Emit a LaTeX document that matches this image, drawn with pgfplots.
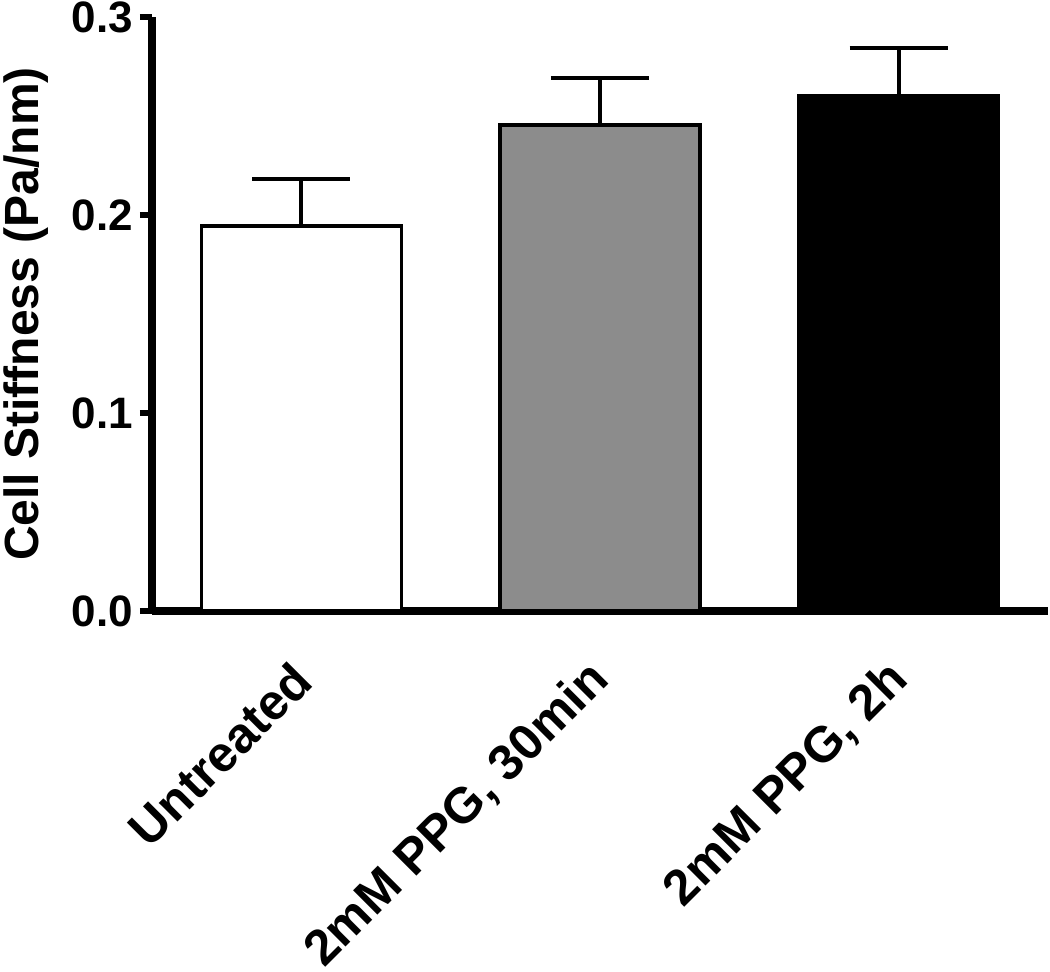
\documentclass[border=0pt]{standalone}
\usepackage{pgfplots}
\pgfplotsset{compat=1.18}
\usepackage{fontspec}
\setmainfont{Liberation Sans}

\begin{document}
\begin{tikzpicture}
% fix the page to the reference frame (1 px = 0.5pt)
\path[use as bounding box] (-76pt,-180pt) rectangle (449pt,305.5pt);
\begin{axis}[
    scale only axis,
    width=448pt, height=297pt,
    xmin=-0.5, xmax=2.5,
    ymin=0, ymax=0.3,
    axis x line*=bottom,
    axis y line*=left,
    axis line style={line width=3.75pt, black},
    ybar, bar width=0.67, bar shift=0pt,
    xtick={0,1,2},
    xticklabels={Untreated, {2mM PPG, 30min}, {2mM PPG, 2h}},
    x tick style={draw=none},
    ytick={0,0.1,0.2,0.3},
    y tick style={line width=3pt, black},
    tick align=outside,
    major tick length=6pt,
    /pgf/number format/assume math mode=true,
    yticklabel style={font=\bfseries\fontsize{22}{26}\selectfont,
        /pgf/number format/fixed, /pgf/number format/fixed zerofill,
        /pgf/number format/precision=1},
    scaled y ticks=false,
    xticklabel style={font=\bfseries\fontsize{25}{30}\selectfont,
        xshift=3pt, yshift=-22pt, rotate=45, anchor=east},
    ylabel={Cell Stiffness (Pa/nm)},
    ylabel style={font=\bfseries\fontsize{24}{28}\selectfont},
    ylabel shift=5pt,
    error bars/y dir=plus,
    error bars/y explicit,
    error bars/error bar style={line width=2pt, black},
    error bars/error mark options={rotate=90, line width=2pt, black, mark size=24.5pt},
]
\addplot[draw=black, line width=1.75pt, fill=white]
    coordinates {(0,0.1944) +- (0,0.0238)};
\addplot[draw=black, line width=1.75pt, fill={rgb,255:red,140;green,140;blue,140}]
    coordinates {(1,0.2455) +- (0,0.0237)};
\addplot[draw=black, line width=1.75pt, fill=black]
    coordinates {(2,0.2603) +- (0,0.0240)};
\end{axis}
\end{tikzpicture}
\end{document}
